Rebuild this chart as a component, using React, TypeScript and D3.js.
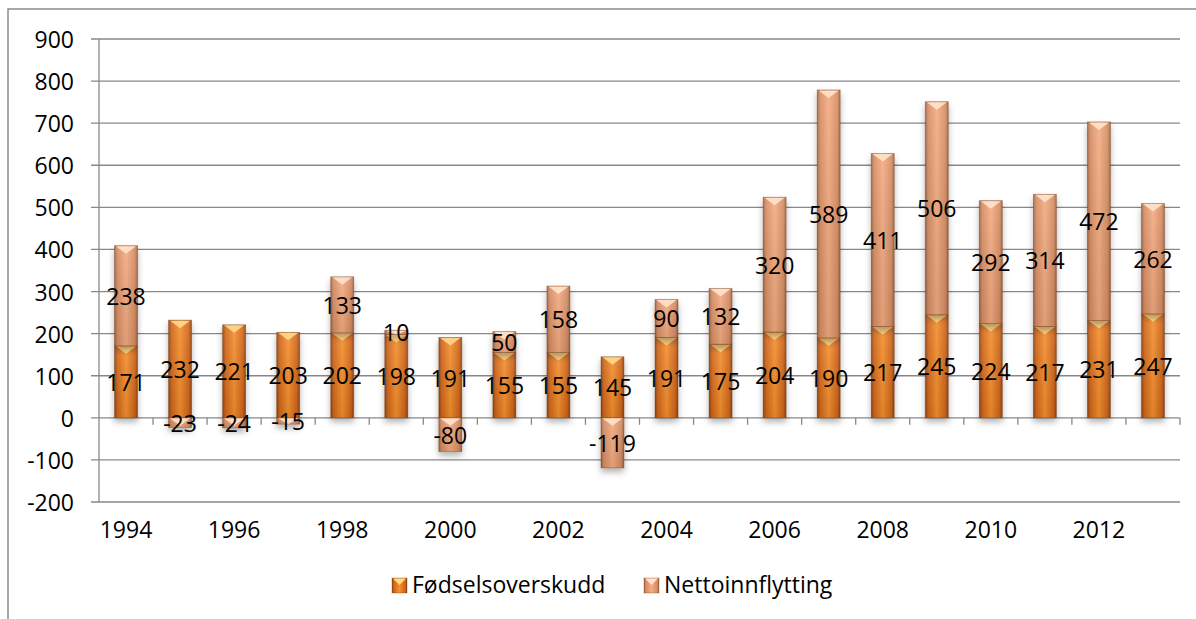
import React from "react";
import * as d3 from "d3";

const years = ["1994","1995","1996","1997","1998","1999","2000","2001","2002","2003","2004","2005","2006","2007","2008","2009","2010","2011","2012","2013"];
const fodsel = [171,232,221,203,202,198,191,155,155,145,191,175,204,190,217,245,224,217,231,247];
const netto = [238,-23,-24,-15,133,10,-80,50,158,-119,90,132,320,589,411,506,292,314,472,262];
const yTicks = [-200,-100,0,100,200,300,400,500,600,700,800,900];
const seriesNames = ["Fødselsoverskudd","Nettoinnflytting"];

const W = 1196, H = 619;
const FONT = "'Open Sans', sans-serif";
const FS = 23;

export default function App() {
  const x = d3.scaleBand<string>().domain(years).range([99, 1180]).paddingInner(0.575).paddingOuter(0.2875);
  const y = d3.scaleLinear().domain([-200, 900]).range([502, 39]);
  const rows = years.map((yr, i) => ({ year: yr, f: fodsel[i], n: netto[i] }));
  const stack = d3.stack<any>().keys(["f", "n"]).offset(d3.stackOffsetDiverging);
  const series = stack(rows);
  const grads = ["gF", "gN"];
  const bevelCol = ["#FFD98C", "#FFE3CC"];
  const step = x.step();

  return (
    <svg width={W} height={H} style={{ position: "absolute", left: 0, top: 0, background: "#fff" }} fontFamily={FONT}>
      <defs>
        <linearGradient id="gF" x1="0" x2="1" y1="0" y2="0">
          <stop offset="0" stopColor="#8E4312" />
          <stop offset="0.12" stopColor="#D06519" />
          <stop offset="0.5" stopColor="#F5902E" />
          <stop offset="0.88" stopColor="#D06519" />
          <stop offset="1" stopColor="#8E4312" />
        </linearGradient>
        <linearGradient id="gN" x1="0" x2="1" y1="0" y2="0">
          <stop offset="0" stopColor="#9E6243" />
          <stop offset="0.12" stopColor="#D58C62" />
          <stop offset="0.5" stopColor="#F4AC82" />
          <stop offset="0.88" stopColor="#D58C62" />
          <stop offset="1" stopColor="#9E6243" />
        </linearGradient>
        <linearGradient id="vShade" x1="0" x2="0" y1="0" y2="1">
          <stop offset="0" stopColor="#fff" stopOpacity="0.1" />
          <stop offset="1" stopColor="#000" stopOpacity="0.08" />
        </linearGradient>
        <filter id="shadow" x="-50%" y="-20%" width="200%" height="140%">
          <feDropShadow dx="0" dy="4" stdDeviation="3" floodColor="#000" floodOpacity="0.3" />
        </filter>
      </defs>

      {/* outer frame */}
      <path d={`M8,${H} V9 H${W}`} fill="none" stroke="#8A8A8A" strokeWidth={1.5} />

      {/* gridlines */}
      {yTicks.map((t) => (
        <g key={t}>
          <line x1={91} x2={1180} y1={y(t)} y2={y(t)} stroke="#888" strokeWidth={1.3} />
          <text x={74} y={y(t)} textAnchor="end" dominantBaseline="central" fontSize={FS} fill="#000">{t}</text>
        </g>
      ))}
      <line x1={99} x2={99} y1={y(900)} y2={y(-200)} stroke="#888" strokeWidth={1.3} />
      {years.map((yr, i) => (
        <line key={yr} x1={99 + step * (i + 1)} x2={99 + step * (i + 1)} y1={y(0)} y2={y(0) + 7} stroke="#888" strokeWidth={1.3} />
      ))}

      {/* bars */}
      {series.map((s, si) => (
        <g key={si} filter="url(#shadow)">
          {s.map((d, i) => {
            const top = y(Math.max(d[0], d[1]));
            const bot = y(Math.min(d[0], d[1]));
            const bx = x(years[i])!;
            const bw = x.bandwidth();
            const h = bot - top;
            const bh = Math.min(8, h);
            return (
              <g key={i}>
                <rect x={bx} y={top} width={bw} height={h} fill={`url(#${grads[si]})`} />
                <rect x={bx} y={top} width={bw} height={h} fill="url(#vShade)" />
                <polygon points={`${bx + 1.5},${top + 0.5} ${bx + bw - 1.5},${top + 0.5} ${bx + bw / 2},${top + bh}`} fill={bevelCol[si]} fillOpacity={0.9} />
                <rect x={bx} y={top} width={bw} height={h} fill="none" stroke="#6B3510" strokeOpacity={0.45} strokeWidth={0.8} />
              </g>
            );
          })}
        </g>
      ))}

      {/* data labels */}
      {series.map((s, si) =>
        s.map((d, i) => {
          const v = si === 0 ? fodsel[i] : netto[i];
          const cy = (y(d[0]) + y(d[1])) / 2;
          return (
            <text key={`${si}-${i}`} x={x(years[i])! + x.bandwidth() / 2} y={cy} textAnchor="middle" dominantBaseline="central" fontSize={FS} fill="#000">{v}</text>
          );
        })
      )}

      {/* x labels */}
      {years.map((yr, i) => i % 2 === 0 ? (
        <text key={yr} x={x(yr)! + x.bandwidth() / 2} y={538} textAnchor="middle" fontSize={FS} fill="#000">{yr}</text>
      ) : null)}

      {/* legend */}
      {seriesNames.map((nm, i) => {
        const lx = i === 0 ? 392 : 644;
        return (
          <g key={nm}>
            <rect x={lx} y={578} width={15} height={15} fill={`url(#${grads[i]})`} stroke="#6B3510" strokeOpacity={0.4} strokeWidth={0.8} />
            <polygon points={`${lx + 1},${578.5} ${lx + 14},${578.5} ${lx + 7.5},${585}`} fill={bevelCol[i]} />
            <text x={lx + 20} y={593} fontSize={FS} fill="#000">{nm}</text>
          </g>
        );
      })}
    </svg>
  );
}
